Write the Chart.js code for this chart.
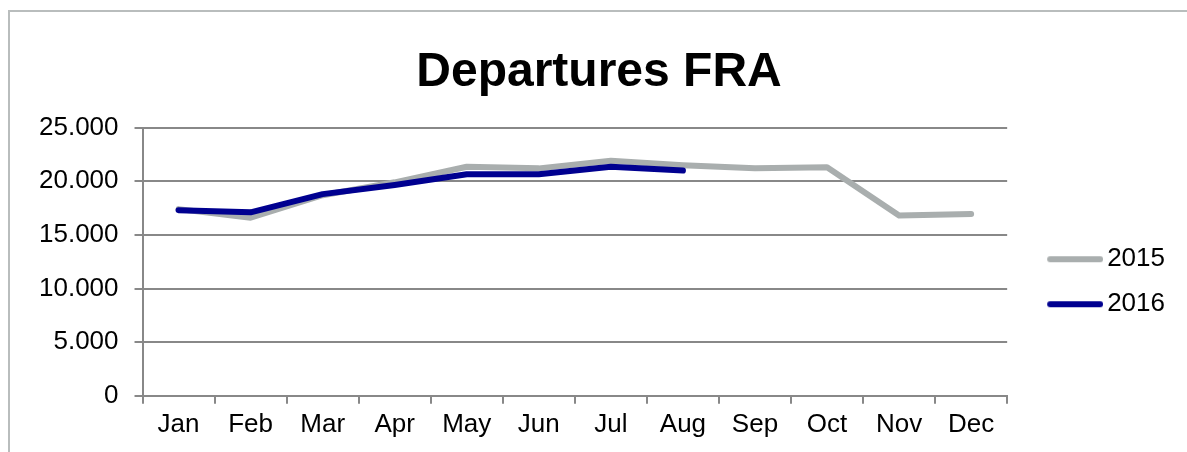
<!DOCTYPE html>
<html lang="en">
<head>
  <meta charset="UTF-8">
  <title>Departures FRA</title>
  <style>
    body {
      margin: 0;
      background: #fff;
      font-family: 'Liberation Sans', Arial, sans-serif;
      overflow: hidden;
    }

    .frame {
      position: absolute;
      left: 8px;
      top: 10px;
      width: 1300px;
      height: 600px;
      border: 2px solid #b9bdbd;
    }

    #lineChart {
      position: absolute;
      left: 0;
      top: 0;
    }
  </style>
</head>
<body>
  <div class="frame"></div>
  <canvas id="lineChart" width="1187" height="452"></canvas>

  <script src="https://cdn.jsdelivr.net/npm/chart.js"></script>
  <script>
    const months = ['Jan', 'Feb', 'Mar', 'Apr', 'May', 'Jun', 'Jul', 'Aug', 'Sep', 'Oct', 'Nov', 'Dec'];
    const departures2015 = [17400, 16600, 18700, 19900, 21350, 21200, 21900, 21500, 21200, 21300, 16800, 16950];
    const departures2016 = [17300, 17100, 18800, 19650, 20650, 20650, 21350, 21000];

    const grey = '#a9aeae';
    const navy = '#000090';
    const font = 'Liberation Sans';

    // Deutsche Tausenderpunkte: 25.000
    function fmt(v) {
      return String(v).replace(/\B(?=(\d{3})+(?!\d))/g, '.');
    }

    // Legendensymbol: Linie mit runden Enden, rechts im Bild, damit der Abstand zum Text klein bleibt
    function legendLine(color) {
      const c = document.createElement('canvas');
      c.width = 86;
      c.height = 10;
      const g = c.getContext('2d');
      g.strokeStyle = color;
      g.lineWidth = 6;
      g.lineCap = 'round';
      g.beginPath();
      g.moveTo(33, 5);
      g.lineTo(83, 5);
      g.stroke();
      return c;
    }

    new Chart(document.getElementById('lineChart'), {
      type: 'line',
      data: {
        labels: months,
        datasets: [{
          label: '2015',
          data: departures2015,
          borderColor: grey,
          backgroundColor: grey,
          borderWidth: 6,
          borderCapStyle: 'round',
          borderJoinStyle: 'round',
          pointRadius: 0,
          pointStyle: legendLine(grey),
          tension: 0,
          order: 1
        }, {
          label: '2016',
          data: departures2016,
          borderColor: navy,
          backgroundColor: navy,
          borderWidth: 6,
          borderCapStyle: 'round',
          borderJoinStyle: 'round',
          pointRadius: 0,
          pointStyle: legendLine(navy),
          tension: 0,
          order: 0
        }]
      },
      options: {
        responsive: false,
        animation: false,
        devicePixelRatio: 1,
        layout: {
          padding: { left: 23, right: 12, top: 0, bottom: 7 }
        },
        plugins: {
          title: {
            display: true,
            text: 'Departures FRA',
            color: '#000',
            font: { family: font, size: 48, weight: 'bold' },
            padding: { top: 44, bottom: 26 }
          },
          legend: {
            position: 'right',
            title: {
              display: true,
              text: '',
              font: { size: 12 },
              padding: { top: 104, bottom: 0 }
            },
            labels: {
              usePointStyle: true,
              pointStyleWidth: 68,
              color: '#000',
              font: { family: font, size: 26 },
              padding: 19,
              sort: (a, b) => a.datasetIndex - b.datasetIndex
            }
          },
          tooltip: { enabled: false }
        },
        scales: {
          x: {
            offset: true,
            grid: {
              offset: true,
              drawOnChartArea: false,
              drawTicks: true,
              tickLength: 8,
              color: '#888888',
              lineWidth: 2
            },
            border: { color: '#888888', width: 2 },
            ticks: {
              color: '#000',
              font: { family: font, size: 26 },
              padding: 5,
              maxRotation: 0,
              autoSkip: false
            }
          },
          y: {
            min: 0,
            max: 25000,
            grid: {
              color: '#888888',
              lineWidth: 2,
              tickLength: 8
            },
            border: { color: '#888888', width: 2 },
            ticks: {
              stepSize: 5000,
              color: '#000',
              font: { family: font, size: 26 },
              padding: 16,
              callback: (v) => fmt(v)
            }
          }
        }
      }
    });
  </script>
</body>
</html>
